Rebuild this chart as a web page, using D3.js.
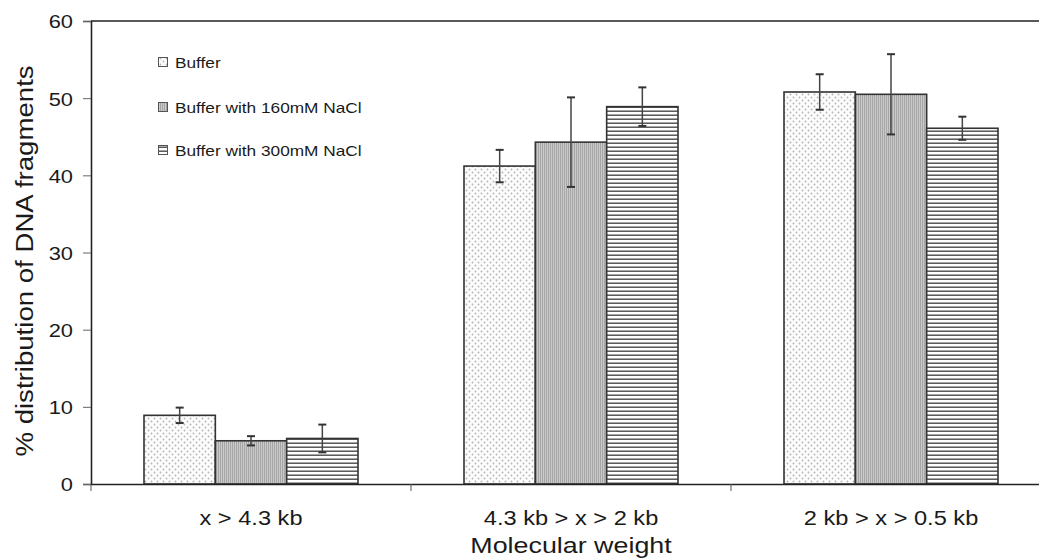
<!DOCTYPE html>
<html><head><meta charset="utf-8">
<script src="https://cdn.jsdelivr.net/npm/d3@7"></script>
<style>body{margin:0;background:#fff}svg{display:block}text{font-family:"Liberation Sans",Arial,sans-serif;fill:#1a1a1a}</style>
</head><body><svg id="c" width="1039" height="560"></svg>
<script>
const categories = ["x > 4.3 kb", "4.3 kb > x > 2 kb", "2 kb > x > 0.5 kb"];
const series = ["Buffer", "Buffer with 160mM NaCl", "Buffer with 300mM NaCl"];
const bufferVals = [8.9, 41.2, 50.8];
const nacl160Vals = [5.6, 44.3, 50.5];
const nacl300Vals = [5.9, 48.9, 46.1];
const bufferErr = [1.0, 2.1, 2.3];
const nacl160Err = [0.6, 5.8, 5.2];
const nacl300Err = [1.8, 2.5, 1.5];
const yTicks = [0, 10, 20, 30, 40, 50, 60];

(function(){
const vals = [bufferVals, nacl160Vals, nacl300Vals];
const errs = [bufferErr, nacl160Err, nacl300Err];

const svg = d3.select("#c");
const mLeft = 91, mRight = 1051, mTop = 21, mBottom = 484;
const x = d3.scaleBand().domain(categories).range([mLeft, mRight]).paddingInner(0).paddingOuter(0);
const groupW = 214;
const xs = d3.scaleBand().domain(series).range([0, groupW]).padding(0);
const y = d3.scaleLinear().domain([0, 60]).range([mBottom, mTop]);

function stretch(sel, k) {
  sel.each(function() {
    const w = this.getComputedTextLength();
    d3.select(this).attr("textLength", w * k).attr("lengthAdjust", "spacingAndGlyphs");
  });
}

const defs = svg.append("defs");
const pd = defs.append("pattern").attr("id","pDots").attr("patternUnits","userSpaceOnUse").attr("width",6).attr("height",6);
pd.append("rect").attr("width",6).attr("height",6).attr("fill","#fcfcfc");
pd.append("circle").attr("cx",1.5).attr("cy",1.5).attr("r",0.9).attr("fill","#b4b4b4");
pd.append("circle").attr("cx",4.5).attr("cy",4.5).attr("r",0.9).attr("fill","#b4b4b4");
const pv = defs.append("pattern").attr("id","pVert").attr("patternUnits","userSpaceOnUse").attr("width",2).attr("height",4);
pv.append("rect").attr("width",2).attr("height",4).attr("fill","#cacaca");
pv.append("rect").attr("width",1).attr("height",4).attr("fill","#a6a6a6");
const ph = defs.append("pattern").attr("id","pHor").attr("patternUnits","userSpaceOnUse").attr("width",4).attr("height",4);
ph.append("rect").attr("width",4).attr("height",4).attr("fill","#fff");
ph.append("rect").attr("y",2.5).attr("width",4).attr("height",1.4).attr("fill","#4a4a4a");
const fills = ["url(#pDots)", "url(#pVert)", "url(#pHor)"];

const g = svg.append("g");
categories.forEach((c, ci) => {
  const gx = x(c) + (x.bandwidth() - groupW) / 2;
  series.forEach((s, si) => {
    const v = vals[si][ci];
    g.append("rect").attr("x", gx + xs(s)).attr("y", y(v)).attr("width", xs.bandwidth()).attr("height", y(0) - y(v))
      .attr("fill", fills[si]).attr("stroke", "#333").attr("stroke-width", 1.6);
  });
});
categories.forEach((c, ci) => {
  const gx = x(c) + (x.bandwidth() - groupW) / 2;
  series.forEach((s, si) => {
    const v = vals[si][ci], e = errs[si][ci];
    const cx = gx + xs(s) + xs.bandwidth() / 2;
    g.append("line").attr("x1", cx).attr("x2", cx).attr("y1", y(v + e)).attr("y2", y(v - e)).attr("stroke", "#444").attr("stroke-width", 1.5);
    [v + e, v - e].forEach(t => g.append("line").attr("x1", cx - 4).attr("x2", cx + 4).attr("y1", y(t)).attr("y2", y(t)).attr("stroke", "#333").attr("stroke-width", 2));
  });
});

const ya = svg.append("g").attr("transform", `translate(${mLeft},0)`)
  .call(d3.axisLeft(y).tickValues(yTicks).tickSize(8).tickPadding(10));
ya.select(".domain").attr("stroke", "#222").attr("stroke-width", 1.6);
ya.selectAll(".tick line").attr("stroke", "#666");
ya.selectAll("text").style("font-size", "19px").attr("fill", "#222").attr("dy", "0.36em");
stretch(ya.selectAll("text"), 1.15);

const xa = svg.append("g").attr("transform", `translate(0,${mBottom})`)
  .call(d3.axisBottom(x).tickSize(0).tickPadding(27));
xa.select(".domain").attr("stroke", "#222").attr("stroke-width", 1.6);
xa.selectAll("text").style("font-size", "20px").attr("fill", "#1a1a1a");
stretch(xa.selectAll("text"), 1.18);
const bounds = categories.map(c => x(c));
svg.append("g").selectAll("line").data(bounds).join("line")
  .attr("x1", d => d).attr("x2", d => d).attr("y1", mBottom).attr("y2", mBottom + 7).attr("stroke", "#555");

svg.append("line").attr("x1", mLeft).attr("x2", mRight).attr("y1", mTop).attr("y2", mTop).attr("stroke", "#222").attr("stroke-width", 1.6);
svg.append("line").attr("x1", mRight).attr("x2", mRight).attr("y1", mTop).attr("y2", mBottom).attr("stroke", "#222").attr("stroke-width", 1.6);

const yt = svg.append("text").attr("transform", `translate(33,261) rotate(-90)`).attr("text-anchor", "middle")
  .style("font-size", "23px").text("% distribution of DNA fragments");
stretch(yt, 1.2);
const xt = svg.append("text").attr("x", x(categories[1]) + x.bandwidth() / 2).attr("y", 553).attr("text-anchor", "middle")
  .style("font-size", "22px").text("Molecular weight");
stretch(xt, 1.22);

const lg = svg.append("g");
const legY = [62, 107, 150];
series.forEach((s, i) => {
  lg.append("rect").attr("x", 158.5).attr("y", legY[i] - 4.5).attr("width", 9).attr("height", 9)
    .attr("fill", fills[i]).attr("stroke", "#555").attr("stroke-width", 1);
  const t = lg.append("text").attr("x", 175).attr("y", legY[i] + 5.5).style("font-size", "15px").text(s);
  stretch(t, 1.15);
});
})();
</script></body></html>
